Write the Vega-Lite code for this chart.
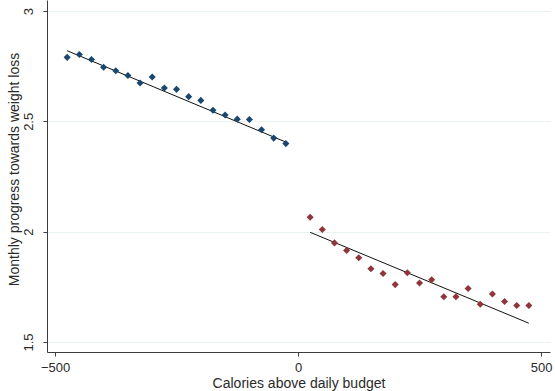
{
  "$schema": "https://vega.github.io/schema/vega-lite/v6.json",
  "width": 503,
  "height": 352,
  "autosize": "none",
  "padding": {"left": 47, "top": 0, "right": 5, "bottom": 39},
  "background": "white",
  "config": {
    "view": {"stroke": null},
    "font": "Liberation Sans",
    "axis": {
      "domainColor": "#3c3c3c",
      "tickColor": "#3c3c3c",
      "labelColor": "#2a2a2a",
      "titleColor": "#2a2a2a",
      "labelFontSize": 13,
      "titleFontSize": 14,
      "titleFontWeight": "normal",
      "tickSize": 4,
      "domainWidth": 1
    }
  },
  "datasets": {
    "bins": [
      {"calories": -475, "progress": 2.790, "side": "below"},
      {"calories": -450, "progress": 2.803, "side": "below"},
      {"calories": -425, "progress": 2.780, "side": "below"},
      {"calories": -400, "progress": 2.745, "side": "below"},
      {"calories": -375, "progress": 2.729, "side": "below"},
      {"calories": -350, "progress": 2.708, "side": "below"},
      {"calories": -325, "progress": 2.674, "side": "below"},
      {"calories": -300, "progress": 2.701, "side": "below"},
      {"calories": -275, "progress": 2.651, "side": "below"},
      {"calories": -250, "progress": 2.645, "side": "below"},
      {"calories": -225, "progress": 2.612, "side": "below"},
      {"calories": -200, "progress": 2.595, "side": "below"},
      {"calories": -175, "progress": 2.550, "side": "below"},
      {"calories": -150, "progress": 2.529, "side": "below"},
      {"calories": -125, "progress": 2.510, "side": "below"},
      {"calories": -100, "progress": 2.508, "side": "below"},
      {"calories": -75, "progress": 2.462, "side": "below"},
      {"calories": -50, "progress": 2.424, "side": "below"},
      {"calories": -25, "progress": 2.399, "side": "below"},
      {"calories": 25, "progress": 2.065, "side": "above"},
      {"calories": 50, "progress": 2.010, "side": "above"},
      {"calories": 75, "progress": 1.949, "side": "above"},
      {"calories": 100, "progress": 1.915, "side": "above"},
      {"calories": 125, "progress": 1.882, "side": "above"},
      {"calories": 150, "progress": 1.832, "side": "above"},
      {"calories": 175, "progress": 1.810, "side": "above"},
      {"calories": 200, "progress": 1.760, "side": "above"},
      {"calories": 225, "progress": 1.814, "side": "above"},
      {"calories": 250, "progress": 1.767, "side": "above"},
      {"calories": 275, "progress": 1.782, "side": "above"},
      {"calories": 300, "progress": 1.705, "side": "above"},
      {"calories": 325, "progress": 1.705, "side": "above"},
      {"calories": 350, "progress": 1.742, "side": "above"},
      {"calories": 375, "progress": 1.671, "side": "above"},
      {"calories": 400, "progress": 1.717, "side": "above"},
      {"calories": 425, "progress": 1.683, "side": "above"},
      {"calories": 450, "progress": 1.665, "side": "above"},
      {"calories": 475, "progress": 1.665, "side": "above"}
    ],
    "fit": [
      {"calories": -475, "progress": 2.820, "side": "below"},
      {"calories": -25, "progress": 2.406, "side": "below"},
      {"calories": 25, "progress": 1.997, "side": "above"},
      {"calories": 475, "progress": 1.585, "side": "above"}
    ]
  },
  "layer": [
    {
      "data": {"name": "fit"},
      "mark": {"type": "line", "color": "#111111", "strokeWidth": 1},
      "encoding": {
        "x": {
          "field": "calories",
          "type": "quantitative",
          "scale": {"domain": [-516.5, 518.5], "nice": false, "zero": false},
          "axis": {
            "values": [-500, 0, 500],
            "grid": false,
            "title": "Calories above daily budget",
            "labelPadding": 5,
            "titleBaseline": "middle",
            "titleY": 31
          }
        },
        "y": {
          "field": "progress",
          "type": "quantitative",
          "scale": {"domain": [1.4545, 3.05], "nice": false, "zero": false},
          "axis": {
            "values": [1.5, 2, 2.5, 3],
            "format": "~g",
            "grid": true,
            "gridColor": "#eaf2f3",
            "gridWidth": 1,
            "labelAngle": -90,
            "labelAlign": "center",
            "labelBaseline": "bottom",
            "labelPadding": 8,
            "title": "Monthly progress towards weight loss",
            "titleBaseline": "middle",
            "titleX": -33,
            "titleY": 169
          }
        },
        "detail": {"field": "side", "type": "nominal"}
      }
    },
    {
      "data": {"name": "bins"},
      "mark": {"type": "point", "shape": "diamond", "filled": true, "size": 50, "opacity": 1},
      "encoding": {
        "x": {"field": "calories", "type": "quantitative"},
        "y": {"field": "progress", "type": "quantitative"},
        "color": {
          "field": "side",
          "type": "nominal",
          "scale": {"domain": ["below", "above"], "range": ["#1a476f", "#90353b"]},
          "legend": null
        }
      }
    }
  ]
}
